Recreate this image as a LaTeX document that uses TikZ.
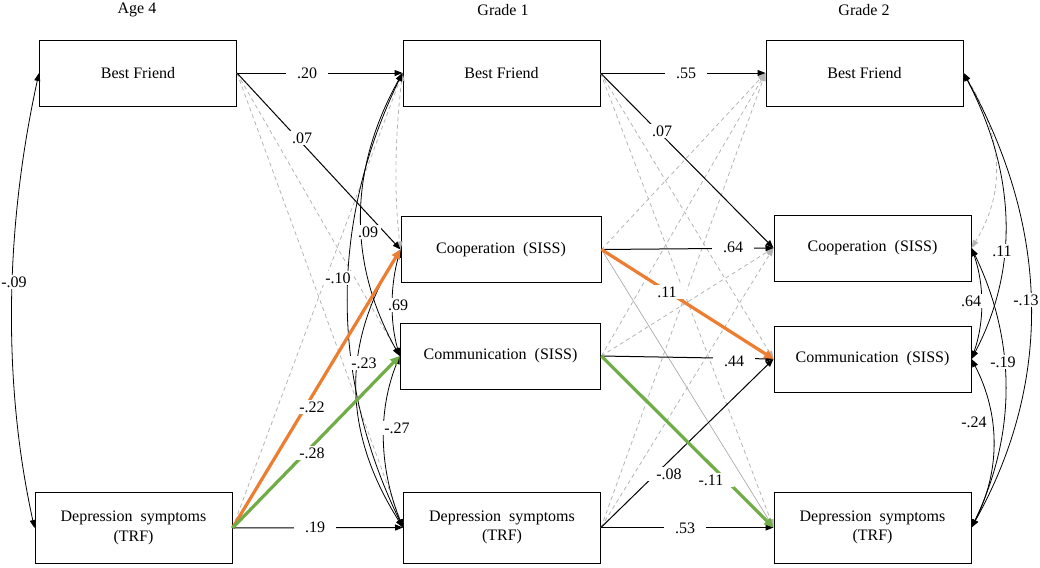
\documentclass[tikz,border=0pt]{standalone}
\usepackage{fontspec}
\setmainfont{Liberation Serif}
\usetikzlibrary{arrows.meta}
\definecolor{dgray}{HTML}{B4B4B4}
\definecolor{sgray}{HTML}{A8A8A8}
\definecolor{orng}{HTML}{ED7D31}
\definecolor{grn}{HTML}{70AD47}
\begin{document}
\begin{tikzpicture}[x=0.75pt,y=-0.75pt,
  font=\fontsize{12}{14.5}\selectfont,
  box/.style={draw, line width=0.75pt, minimum width=147.75pt, minimum height=49.5pt, align=center, inner sep=0pt},
  tbox/.style={box, minimum height=53.25pt},
  tip/.tip={Triangle[length=6pt,width=4.5pt]},
  arr/.style={line width=0.75pt, -tip},
  thinarr/.style={line width=0.5pt, draw=sgray, -{Triangle[length=6pt,width=4.5pt,fill=sgray]}},
  dsh/.style={line width=0.6pt, draw=dgray, dash pattern=on 3pt off 2.5pt, -{Triangle[length=6pt,width=4.5pt,fill=dgray]}},
  dcov/.style={line width=0.6pt, draw=dgray, dash pattern=on 3pt off 2.5pt, {Triangle[length=6pt,width=4.5pt,fill=dgray]}-{Triangle[length=6pt,width=4.5pt,fill=dgray]}},
  cov/.style={line width=0.6pt, tip-tip},
  oarr/.style={line width=2.4pt, draw=orng, -{Triangle[length=7pt,width=6.5pt,fill=orng]}},
  garr/.style={line width=2.4pt, draw=grn, -{Triangle[length=7pt,width=6.5pt,fill=grn]}},
  lbl/.style={fill=white, inner xsep=8pt, inner ysep=1.5pt},
  ttl/.style={inner sep=1pt}
]
\useasboundingbox (0,0) rectangle (1040,568);

% titles
\node[ttl] (t1) at (137,10) {Age 4};
\node[ttl] (t2) at (503,10) {Grade 1};
\node[ttl] (t3) at (864,10) {Grade 2};

% boxes
\node[box] (a1) at (138,73) {Best Friend};
\node[tbox] (a4) at (133.5,528) {Depression~~symptoms\\(TRF)};
\node[box] (b1) at (501.5,73) {Best Friend};
\node[box, minimum width=150pt] (b2) at (501,249.5) {Cooperation~~(SISS)};
\node[box, minimum width=150.5pt] (b3) at (500.5,356) {Communication~~(SISS)};
\node[tbox] (b4) at (502,527.5) {Depression~~symptoms\\(TRF)};
\node[box] (c1) at (864.5,73) {Best Friend};
\node[box] (c2) at (872.5,248) {Cooperation~~(SISS)};
\node[box] (c3) at (872.5,359) {Communication~~(SISS)};
\node[tbox] (c4) at (872.5,527.5) {Depression~~symptoms\\(TRF)};

% dashed non-significant paths
\draw[dsh] (a1.east) -- (b3.west);
\draw[dsh] (a1.east) -- (b4.west);
\draw[dsh] (a4.east) -- (b1.west);
\draw[dsh] (b1.east) -- (c3.west);
\draw[dsh] (b1.east) -- (c4.west);
\draw[dsh] (b2.east) -- (c1.west);
\draw[dsh] (b3.east) -- (c1.west);
\draw[dsh] (b3.east) -- (c2.west);
\draw[dsh] (b4.east) -- (c1.west);
\draw[dsh] (b4.east) -- (c2.west);
\draw[dcov] (b1.west) .. controls +(-7,60) and +(-7,-60) .. (b2.west);
\draw[dcov] (c1.east) .. controls +(37,60) and +(37,-60) .. (c2.east);
\draw[thinarr] (b2.east) -- (c4.west);

% solid paths
\draw[arr] (a1.east) -- (b1.west);
\draw[arr] (a1.east) -- (b2.west);
\draw[arr] (a4.east) -- (b4.west);
\draw[arr] (b1.east) -- (c1.west);
\draw[arr] (b1.east) -- (c2.west);
\draw[arr] (b2.east) -- (c2.west);
\draw[arr] (b3.east) -- (c3.west);
\draw[arr] (b4.east) -- (c4.west);
\draw[arr] (b4.east) -- (c3.west);

% covariances
\draw[cov] (a1.west) .. controls +(-33,150) and +(-33,-150) .. (a4.west);
\draw[cov] (b1.west) .. controls +(-73,150) and +(-73,-150) .. (b4.west);
\draw[cov] (b1.west) .. controls +(-53,95) and +(-53,-95) .. (b3.west);
\draw[cov] (b2.west) .. controls +(-60,95) and +(-60,-95) .. (b4.west);
\draw[cov] (b2.west) .. controls +(-10,35) and +(-10,-35) .. (b3.west);
\draw[cov] (b3.west) .. controls +(-23,57) and +(-23,-57) .. (b4.west);
\draw[cov] (c1.east) .. controls +(50,95) and +(50,-95) .. (c3.east);
\draw[cov] (c1.east) .. controls +(84,150) and +(84,-150) .. (c4.east);
\draw[cov] (c2.east) .. controls +(13,37) and +(13,-37) .. (c3.east);
\draw[cov] (c2.east) .. controls +(45,93) and +(45,-93) .. (c4.east);
\draw[cov] (c3.east) .. controls +(29,56) and +(29,-56) .. (c4.east);

% coloured significant paths
\draw[oarr] (a4.east) -- (b2.west);
\draw[garr] (a4.east) -- (b3.west);
\draw[oarr] (b2.east) -- (c3.west);
\draw[garr] (b3.east) -- (c4.west);

% labels
\node[lbl] (l01) at (307,73) {.20};
\node[lbl] (l02) at (302,138) {.07};
\node[lbl] (l03) at (312,407) {-.22};
\node[lbl] (l04) at (312,453) {-.28};
\node[lbl] (l05) at (315,527) {.19};
\node[lbl, inner xsep=2pt] (l06) at (14,282) {-.09};
\node[lbl, inner xsep=2pt] (l07) at (368,232) {.09};
\node[lbl, inner xsep=2pt] (l08) at (338,278) {-.10};
\node[lbl, inner xsep=2pt] (l09) at (398,305) {.69};
\node[lbl, inner xsep=2pt] (l10) at (364,363) {-.23};
\node[lbl, inner xsep=2pt] (l11) at (397,428) {-.27};
\node[lbl] (l12) at (686,73) {.55};
\node[lbl] (l13) at (662,131) {.07};
\node[lbl] (l14) at (733,247) {.64};
\node[lbl] (l15) at (667,292) {.11};
\node[lbl] (l16) at (734,361) {.44};
\node[lbl] (l17) at (669,474) {-.08};
\node[lbl] (l18) at (711,480) {-.11};
\node[lbl] (l19) at (685,528) {.53};
\node[lbl, inner xsep=2pt] (l20) at (1002,251) {.11};
\node[lbl, inner xsep=2pt] (l21) at (971,301) {.64};
\node[lbl, inner xsep=2pt] (l22) at (1026,300) {-.13};
\node[lbl, inner xsep=2pt] (l23) at (1003,362) {-.19};
\node[lbl, inner xsep=2pt] (l24) at (974,422) {-.24};
\end{tikzpicture}
\end{document}
